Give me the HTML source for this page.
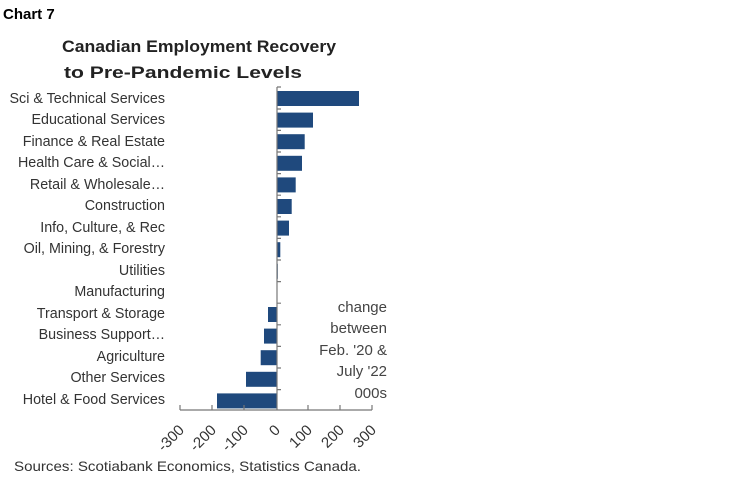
<!DOCTYPE html>
<html><head><style>
body{margin:0;width:750px;height:487px;background:#fff;font-family:"Liberation Sans",sans-serif;overflow:hidden}
</style></head><body>
<svg width="750" height="487" xmlns="http://www.w3.org/2000/svg" font-family="Liberation Sans, sans-serif">
<text x="3" y="19" font-size="15" font-weight="bold" fill="#000">Chart 7</text>
<text x="199" y="52" font-size="17" font-weight="bold" text-anchor="middle" fill="#222" textLength="274" lengthAdjust="spacingAndGlyphs">Canadian Employment Recovery</text>
<text x="183" y="78" font-size="17" font-weight="bold" text-anchor="middle" fill="#222" textLength="238" lengthAdjust="spacingAndGlyphs">to Pre-Pandemic Levels</text>
<g font-size="14.3" fill="#333" text-anchor="end">
<text x="165" y="103">Sci &amp; Technical Services</text>
<text x="165" y="124">Educational Services</text>
<text x="165" y="146">Finance &amp; Real Estate</text>
<text x="165" y="167">Health Care &amp; Social…</text>
<text x="165" y="189">Retail &amp; Wholesale…</text>
<text x="165" y="210">Construction</text>
<text x="165" y="232">Info, Culture, &amp; Rec</text>
<text x="165" y="253">Oil, Mining, &amp; Forestry</text>
<text x="165" y="275">Utilities</text>
<text x="165" y="296">Manufacturing</text>
<text x="165" y="318">Transport &amp; Storage</text>
<text x="165" y="339">Business Support…</text>
<text x="165" y="361">Agriculture</text>
<text x="165" y="382">Other Services</text>
<text x="165" y="404">Hotel &amp; Food Services</text>
</g>
<g fill="#1f497d">
<rect x="277" y="91" width="82" height="15"/>
<rect x="277" y="112.6" width="36" height="15"/>
<rect x="277" y="134.2" width="27.7" height="15"/>
<rect x="277" y="155.8" width="25" height="15"/>
<rect x="277" y="177.4" width="18.7" height="15"/>
<rect x="277" y="199" width="14.7" height="15"/>
<rect x="277" y="220.6" width="12" height="15"/>
<rect x="277" y="242.2" width="3.3" height="15"/>
<rect x="277" y="263.8" width="0.8" height="15"/>
<rect x="268" y="307" width="9" height="15"/>
<rect x="264" y="328.6" width="13" height="15"/>
<rect x="260.7" y="350.2" width="16.3" height="15"/>
<rect x="246" y="371.8" width="31" height="15"/>
<rect x="217" y="393.4" width="60" height="15"/>
</g>
<g stroke="#777" stroke-width="1.2" fill="none">
<line x1="277" y1="87" x2="277" y2="410"/>
<line x1="180" y1="410" x2="372" y2="410"/>
<path d="M277 87h4M277 109h4M277 130.4h4M277 152h4M277 173.6h4M277 195.2h4M277 216.8h4M277 238.4h4M277 260h4M277 281.6h4M277 303.2h4M277 324.8h4M277 346.4h4M277 368h4M277 389.6h4"/>
<path d="M180 410v-5M212 410v-5M244 410v-5M308 410v-5M340 410v-5M372 410v-5"/>
</g>
<g font-size="15" fill="#333" text-anchor="end">
<text transform="translate(185,431) rotate(-45)">-300</text>
<text transform="translate(217,431) rotate(-45)">-200</text>
<text transform="translate(249,431) rotate(-45)">-100</text>
<text transform="translate(281,431) rotate(-45)">0</text>
<text transform="translate(313,431) rotate(-45)">100</text>
<text transform="translate(345,431) rotate(-45)">200</text>
<text transform="translate(377,431) rotate(-45)">300</text>
</g>
<g font-size="15" fill="#444" text-anchor="end">
<text x="387" y="312">change</text>
<text x="387" y="333">between</text>
<text x="387" y="355">Feb. '20 &amp;</text>
<text x="387" y="376">July '22</text>
<text x="387" y="398">000s</text>
</g>
<text x="14" y="471" font-size="14" fill="#333" textLength="347" lengthAdjust="spacingAndGlyphs">Sources: Scotiabank Economics, Statistics Canada.</text>
</svg>
</body></html>
